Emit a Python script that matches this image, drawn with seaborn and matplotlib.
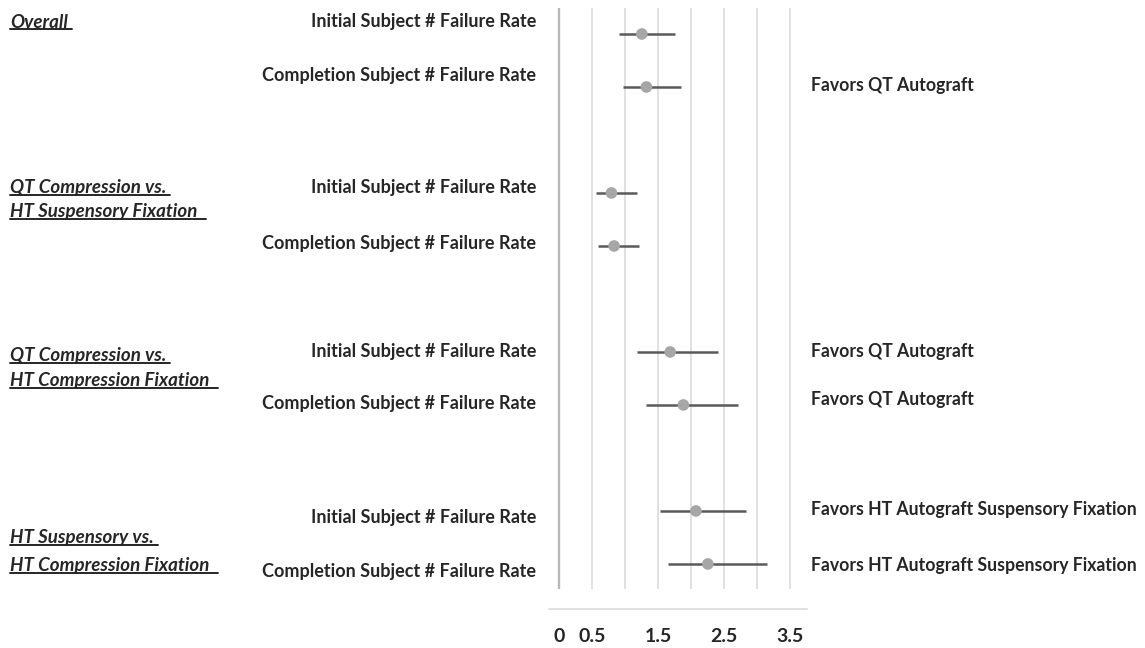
import numpy as np
import pandas as pd
import seaborn as sns
import matplotlib.pyplot as plt
from matplotlib.lines import Line2D

# forest plot values
row_labels = ["Initial Subject # Failure Rate", "Completion Subject # Failure Rate"] * 4
estimate = [1.25, 1.32, 0.79, 0.83, 1.68, 1.88, 2.07, 2.25]
ci_low = [0.90, 0.96, 0.56, 0.58, 1.18, 1.31, 1.53, 1.64]
ci_high = [1.75, 1.85, 1.18, 1.21, 2.40, 2.70, 2.83, 3.15]
groups = [["Overall"],
          ["QT Compression vs.", "HT Suspensory Fixation "],
          ["QT Compression vs.", "HT Compression Fixation "],
          ["HT Suspensory vs.", "HT Compression Fixation "]]
favors = ["", "Favors QT Autograft", "", "",
          "Favors QT Autograft", "Favors QT Autograft",
          "Favors HT Autograft Suspensory Fixation",
          "Favors HT Autograft Suspensory Fixation"]
xtick_labels = [0, 0.5, 1.5, 2.5, 3.5]

# two rows per group, one empty row between groups
pos = [3 * (i // 2) + i % 2 for i in range(len(estimate))]
df = pd.DataFrame({"label": row_labels, "estimate": estimate,
                   "low": ci_low, "high": ci_high, "pos": pos})

sns.set_style("white")
plt.rcParams["font.family"] = ["Lato", "DejaVu Sans"]
W, H = 1145, 648
fig = plt.figure(figsize=(W / 100, H / 100), dpi=100)
ax = fig.add_axes([549 / W, 1 - 609 / H, 258 / W, 601 / H])

grid_x = np.arange(0, 4, 0.5)
ax.vlines(grid_x[1:], -0.49, 10.47, color="#d9d9d9", lw=1.1, zorder=0)
ax.vlines(0, -0.49, 10.47, color="#b8b8b8", lw=1.7, zorder=0)

ax.hlines(df["pos"], df["low"], df["high"], color="#5a5a5a", lw=1.8, zorder=2)
sns.scatterplot(data=df, x="estimate", y="pos", color="#a6a6a6", s=70,
                edgecolor="none", zorder=3, ax=ax, legend=False)

ax.set_xlim(-0.156, 3.753)
ax.set_ylim(10.85, -0.49)
ax.set_xticks(xtick_labels)
ax.set_xticklabels([str(v) for v in xtick_labels], fontsize=14,
                   fontweight="bold", color="#262626")
ax.set_yticks([])
ax.tick_params(axis="x", length=0, pad=14)
ax.set_xlabel("")
ax.set_ylabel("")
for s in ["top", "left", "right"]:
    ax.spines[s].set_visible(False)
ax.spines["bottom"].set_color("#d9d9d9")
ax.spines["bottom"].set_linewidth(1.1)

txt = dict(fontweight="bold", color="#262626", va="center")

def fy(p):
    return 1 - p / H

row_y = [22, 76, 188, 244, 352, 403, 517, 572]
for lab, y in zip(row_labels, row_y):
    fig.text(536 / W, fy(y), lab, ha="right", fontsize=13, **txt)

fav_y = [34, 86, 193, 245, 352, 399, 510, 565]
for lab, y in zip(favors, fav_y):
    if lab:
        fig.text(811 / W, fy(y), lab, ha="left", fontsize=12.7, **txt)

group_y = [[22], [188, 212], [356, 381], [538, 566]]
heads = []
for lines, ys in zip(groups, group_y):
    for line, y in zip(lines, ys):
        heads.append(fig.text(10 / W, fy(y), line, ha="left", style="italic",
                              fontsize=13.5, **txt))

# underline the group headings
fig.canvas.draw()
r = fig.canvas.get_renderer()
for t in heads:
    bb = t.get_window_extent(r)
    y = bb.y0 + 1.5
    fig.add_artist(Line2D([bb.x0 / W, (bb.x1 + 4) / W], [y / H, y / H],
                          transform=fig.transFigure, color="#262626", lw=1.4))

fig.savefig("out.png", dpi=100)
